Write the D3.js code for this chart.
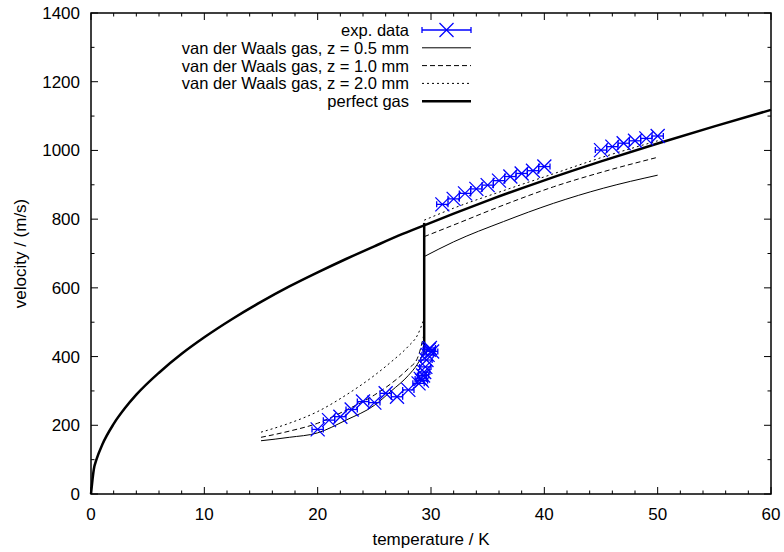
<!DOCTYPE html>
<html><head><meta charset="utf-8">
<script src="https://cdn.jsdelivr.net/npm/d3@7"></script>
<style>body{margin:0;background:#fff}svg{display:block}text{font-family:"Liberation Sans",Arial,Helvetica,sans-serif}</style>
</head><body><svg id="c" width="784" height="552"></svg>
<script>
// ---- data ----
const xTicks = [0,10,20,30,40,50,60];
const yTicks = [0,200,400,600,800,1000,1200,1400];

const expT = [20,21,22,23,24,25,26,27,28,28.9,29.1,29.2,29.3,29.4,29.5,29.6,29.7,29.8,29.9,30.1,
              31,32,33,34,35,36,37,38,39,40,
              45,46,47,48,49,50];
const expV = [188,215,225,246,269,266,293,283,303,322,335,330,345,355,370,390,405,420,425,415,
              843,859,875,888,899,912,924,933,941,953,
              1001,1011,1021,1028,1035,1042];
const expErr = 0.5;

const vdwLowT  = [15,17.5,20,22.5,25,26.5,28,28.8,29.4];
const vdw05Low = [155,165,178,215,258,300,345,378,414];
const vdw10Low = [165,183,206,244,288,322,365,395,468];
const vdw20Low = [180,206,240,288,345,385,430,462,511];

const vdwHighT  = [29.4,32,36.4,40.8,45.2,50];
const vdw05High = [691,734,793,846,890,928];
const vdw10High = [749,783,841,894,938,980];
const vdw20High = [797,832,883,932,981,1028];

const gasT = [0,0.25,0.5,1,2,3,4,6,8,10,12.5,15,17.5,20,22.5,25,27.5,29.4];
const gasV = [0,72,102,144,204,250,289,353,408,456,510,559,604,645,684,721,757,782];
const gasT2 = [29.4,32,35,40,45,50,55,60];
const gasV2 = [782,816,854,913,968,1020,1070,1118];
const jumpT = [29.4,29.4];
const jumpV = [413,789];

const legendLabels = ["exp. data","van der Waals gas, z = 0.5 mm","van der Waals gas, z = 1.0 mm","van der Waals gas, z = 2.0 mm","perfect gas"];

// ---- drawing ----
const svg = d3.select("#c");
const L=91, R=771, T=13, B=494;
const x = d3.scaleLinear().domain([0,60]).range([L,R]);
const y = d3.scaleLinear().domain([0,1400]).range([B,T]);
const blue = "#0000ff";
const FS = 17;

const g = svg.append("g");
// ticks inward on all sides
const xMinor = d3.range(0,61,2), yMinor = d3.range(0,1401,100);
const tickG = g.append("g").attr("stroke","#000").attr("stroke-width",1);
xMinor.forEach(v=>{
  const len = (v%10===0)?7:3.5;
  tickG.append("line").attr("x1",x(v)).attr("x2",x(v)).attr("y1",B).attr("y2",B-len);
  tickG.append("line").attr("x1",x(v)).attr("x2",x(v)).attr("y1",T).attr("y2",T+len);
});
yMinor.forEach(v=>{
  const len = (v%200===0)?7:3.5;
  tickG.append("line").attr("x1",L).attr("x2",L+len).attr("y1",y(v)).attr("y2",y(v));
  tickG.append("line").attr("x1",R).attr("x2",R-len).attr("y1",y(v)).attr("y2",y(v));
});
// tick labels
xTicks.forEach(v=>g.append("text").attr("x",x(v)).attr("y",520).attr("text-anchor","middle").attr("font-size",FS).text(v));
yTicks.forEach(v=>g.append("text").attr("x",80).attr("y",y(v)+6).attr("text-anchor","end").attr("font-size",FS).text(v));
// axis titles
g.append("text").attr("x",(L+R)/2).attr("y",545).attr("text-anchor","middle").attr("font-size",FS).text("temperature / K");
g.append("text").attr("transform",`translate(26,${(T+B)/2}) rotate(-90)`).attr("text-anchor","middle").attr("font-size",FS).text("velocity / (m/s)");

const line = d3.line().x(d=>x(d[0])).y(d=>y(d[1]));
const curve = d3.line().x(d=>x(d[0])).y(d=>y(d[1])).curve(d3.curveMonotoneX);
const zip = (a,b)=>a.map((t,i)=>[t,b[i]]);

const styles = {
  s05:{w:1,dash:null},
  s10:{w:1,dash:"5,3"},
  s20:{w:1,dash:"2,3"},
  gas:{w:2.5,dash:null}
};
function path(data, st, gen){
  g.append("path").attr("d",(gen||curve)(data)).attr("fill","none").attr("stroke","#000")
   .attr("stroke-width",st.w).attr("stroke-dasharray",st.dash);
}
path(zip(vdwLowT,vdw05Low),styles.s05);
path(zip(vdwHighT,vdw05High),styles.s05);
path(zip(vdwLowT,vdw10Low),styles.s10);
path(zip(vdwHighT,vdw10High),styles.s10);
path(zip(vdwLowT,vdw20Low),styles.s20);
path(zip(vdwHighT,vdw20High),styles.s20);
path(zip(gasT,gasV),styles.gas);
path(zip(gasT2,gasV2),styles.gas);
path(zip(jumpT,jumpV),styles.gas,line);

// experimental data
const cs = 7, cap = 3;
const eg = g.append("g").attr("stroke",blue).attr("stroke-width",1.3).attr("fill","none");
function errCross(cx, cy, x0, x1){
  eg.append("line").attr("x1",x0).attr("x2",x1).attr("y1",cy).attr("y2",cy);
  eg.append("line").attr("x1",x0).attr("x2",x0).attr("y1",cy-cap).attr("y2",cy+cap);
  eg.append("line").attr("x1",x1).attr("x2",x1).attr("y1",cy-cap).attr("y2",cy+cap);
  eg.append("line").attr("x1",cx-cs).attr("x2",cx+cs).attr("y1",cy-cs).attr("y2",cy+cs);
  eg.append("line").attr("x1",cx-cs).attr("x2",cx+cs).attr("y1",cy+cs).attr("y2",cy-cs);
}
expT.forEach((t,i)=>errCross(x(t),y(expV[i]),x(t-expErr),x(t+expErr)));

// frame
g.append("rect").attr("x",L).attr("y",T).attr("width",R-L).attr("height",B-T)
 .attr("fill","none").attr("stroke","#000").attr("stroke-width",1.5);

// legend
const lx0=422, lx1=471, ly0=30, ldy=17.8;
legendLabels.forEach((lab,i)=>{
  const yy = ly0 + i*ldy;
  g.append("text").attr("x",409).attr("y",yy+6).attr("text-anchor","end").attr("font-size",16.5).text(lab);
  if(i===0){ errCross((lx0+lx1)/2, yy, lx0, lx1); }
  else {
    const st=[null,styles.s05,styles.s10,styles.s20,styles.gas][i];
    path([[x.invert(lx0),y.invert(yy)],[x.invert(lx1),y.invert(yy)]],st,line);
  }
});
</script></body></html>
